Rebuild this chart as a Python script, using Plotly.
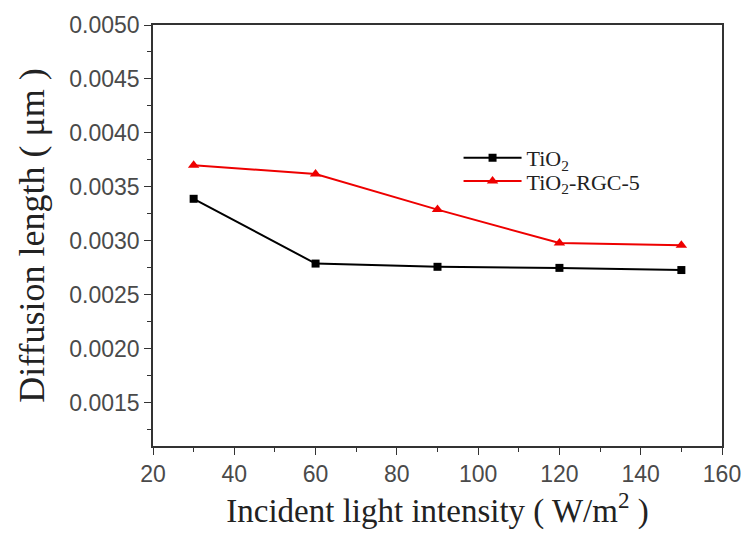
import plotly.graph_objects as go

intensity = [30, 60, 90, 120, 150]
tio2 = [0.00339, 0.00279, 0.00276, 0.00275, 0.00273]
tio2_rgc5 = [0.00370, 0.00362, 0.00329, 0.00298, 0.00296]
names = ["TiO<sub>2</sub>", "TiO<sub>2</sub>-RGC-5"]
x_ticks = [20, 40, 60, 80, 100, 120, 140, 160]
y_ticks = [0.0015, 0.0020, 0.0025, 0.0030, 0.0035, 0.0040, 0.0045, 0.0050]

fig = go.Figure()
fig.add_trace(go.Scatter(x=intensity, y=tio2, name=names[0], mode="lines+markers",
                         line=dict(color="black", width=2),
                         marker=dict(symbol="square", size=8, color="black"),
                         legend="legend"))
fig.add_trace(go.Scatter(x=intensity, y=tio2_rgc5, name=names[1], mode="lines+markers",
                         line=dict(color="#ee0000", width=2),
                         marker=dict(symbol="triangle-up", size=10, color="#ee0000"),
                         legend="legend2"))

legend_style = dict(xanchor="left", yanchor="middle", itemwidth=58,
                    font=dict(family="Liberation Serif", size=22, color="#222"),
                    bgcolor="rgba(0,0,0,0)")

# page body adds an 8px offset, so the figure is 8px smaller than the window
fig.update_layout(
    width=741, height=528,
    margin=dict(l=145, r=27, t=17, b=90),
    paper_bgcolor="white", plot_bgcolor="white",
    showlegend=True,
    legend=dict(x=0.537, y=0.684, **legend_style),
    legend2=dict(x=0.537, y=0.629, **legend_style),
    xaxis=dict(range=[20, 160], tickvals=x_ticks, ticktext=[str(v) for v in x_ticks],
               showline=True, linecolor="#333", linewidth=1.5, mirror=True, automargin=False,
               ticks="outside", ticklen=7, tickcolor="#333", showgrid=False, zeroline=False,
               minor=dict(ticks="outside", ticklen=4, dtick=10, tickcolor="#333"),
               tickfont=dict(family="Liberation Sans", size=23, color="#4a4a4a"),
               title=dict(text="Incident light intensity ( W/m<sup>2</sup> )",
                          font=dict(family="Liberation Serif", size=33, color="#222"), standoff=12)),
    yaxis=dict(range=[0.0011, 0.0050], tickvals=y_ticks, ticktext=[f"{v:.4f}" for v in y_ticks],
               showline=True, linecolor="#333", linewidth=1.5, mirror=True, automargin="left",
               ticks="outside", ticklen=7, tickcolor="#333", showgrid=False, zeroline=False,
               minor=dict(ticks="outside", ticklen=4, tick0=0.0010, dtick=0.00025, tickcolor="#333"),
               tickfont=dict(family="Liberation Sans", size=23, color="#4a4a4a"),
               title=dict(text="Diffusion length ( μm )",
                          font=dict(family="Liberation Serif", size=36, color="#222"), standoff=14)),
)

fig.write_html("out.html")
